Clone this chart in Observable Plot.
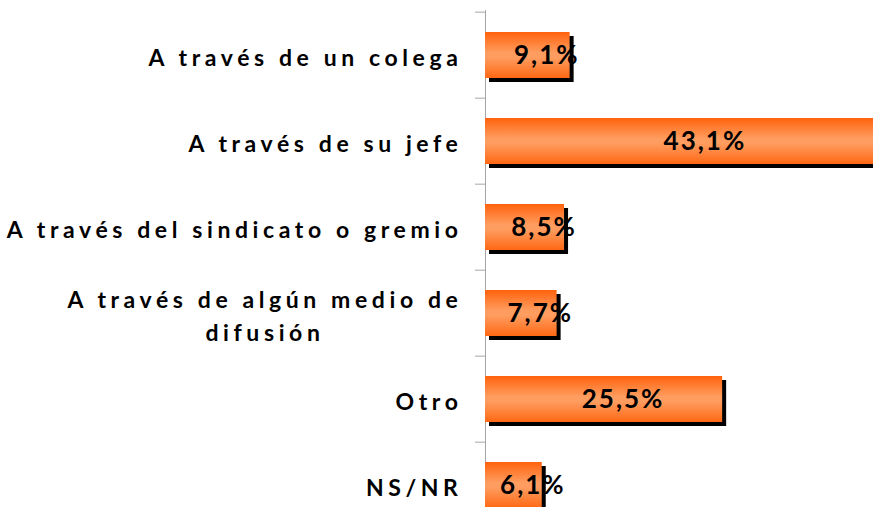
<!DOCTYPE html>
<html><head><meta charset="utf-8">
<script src="https://cdn.jsdelivr.net/npm/d3@7"></script>
<script src="https://cdn.jsdelivr.net/npm/@observablehq/plot@0.6"></script>
<style>html,body{margin:0;padding:0;overflow:hidden;background:#fff}svg{overflow:hidden}</style>
</head><body><div id="chart"></div>
<script>
const categories = [
  "A través de un colega",
  "A través de su jefe",
  "A través del sindicato o gremio",
  "A través de algún medio de\ndifusión",
  "Otro",
  "NS/NR"
];
const values = [9.1, 43.1, 8.5, 7.7, 25.5, 6.1];
const valueLabels = ["9,1%", "43,1%", "8,5%", "7,7%", "25,5%", "6,1%"];

const data = categories.map((c, i) => ({cat: c, value: values[i], label: valueLabels[i]}));

const W = 873, H = 507;
const yTop = 10, yBottom = 530;           // last band runs past the bottom edge (cropped)
const xLeft = 485, pxPerPct = 9.3;
const bw = (yBottom - yTop) / categories.length;

const plot = Plot.plot({
  width: W, height: H,
  marginLeft: xLeft, marginRight: 0, marginTop: yTop, marginBottom: 0,
  x: {domain: [0, 45], range: [xLeft, xLeft + 45 * pxPerPct], axis: null},
  y: {domain: categories, range: [yTop, yBottom], padding: 0, axis: null},
  style: {fontFamily: "Lato", background: "white"},
  marks: [
    Plot.ruleX([0], {stroke: "#a6a6a6", strokeWidth: 1}),
    Plot.axisY({tickSize: 10, tickFormat: () => "", color: "#a6a6a6", dy: -bw / 2, label: null}),
    Plot.axisY({tickSize: 0, tickPadding: 23, fontSize: 23, fontWeight: "bold", color: "black",
      tickFormat: d => d, label: null, lineHeight: 1.45, dy: 0}),
    Plot.barX(data, {y: "cat", x: "value", fill: "black", insetTop: 20, insetBottom: 20, dx: 4, dy: 4}),
    Plot.barX(data, {y: "cat", x: "value", fill: "url(#barGrad)", insetTop: 20, insetBottom: 20}),
    Plot.text(data, {y: "cat", x: d => d.value / 2, text: "label", dx: 19, dy: 0, fontSize: 26,
      fontWeight: "bold", fill: "black", className: "vlab"})
  ]
});

document.getElementById("chart").appendChild(plot);

// gradient definition
const ns = "http://www.w3.org/2000/svg";
const defs = document.createElementNS(ns, "defs");
const grad = document.createElementNS(ns, "linearGradient");
grad.setAttribute("id", "barGrad");
grad.setAttribute("x1", "0"); grad.setAttribute("y1", "0");
grad.setAttribute("x2", "0"); grad.setAttribute("y2", "1");
[["0", "#ff620c"], ["0.45", "#ff9d60"], ["0.55", "#ff9d60"], ["1", "#ff6814"]].forEach(([o, c]) => {
  const s = document.createElementNS(ns, "stop");
  s.setAttribute("offset", o); s.setAttribute("stop-color", c);
  grad.appendChild(s);
});
defs.appendChild(grad);
plot.insertBefore(defs, plot.firstChild);

// letter spacing
plot.querySelectorAll('g[aria-label="y-axis tick label"] text').forEach(t => {
  t.style.letterSpacing = "4.6px";
});
plot.querySelectorAll('.vlab text').forEach(t => {
  t.style.letterSpacing = "2px";
});

// center multi-line category labels within their block
plot.querySelectorAll('g[aria-label="y-axis tick label"] text').forEach(t => {
  const spans = t.querySelectorAll("tspan");
  if (spans.length > 1) {
    const lens = [...spans].map(s => s.getComputedTextLength());
    const m = Math.max(...lens);
    t.setAttribute("text-anchor", "middle");
    t.setAttribute("transform", (t.getAttribute("transform") || "") + ` translate(${-m / 2},0)`);
  }
});
</script>
</body></html>
